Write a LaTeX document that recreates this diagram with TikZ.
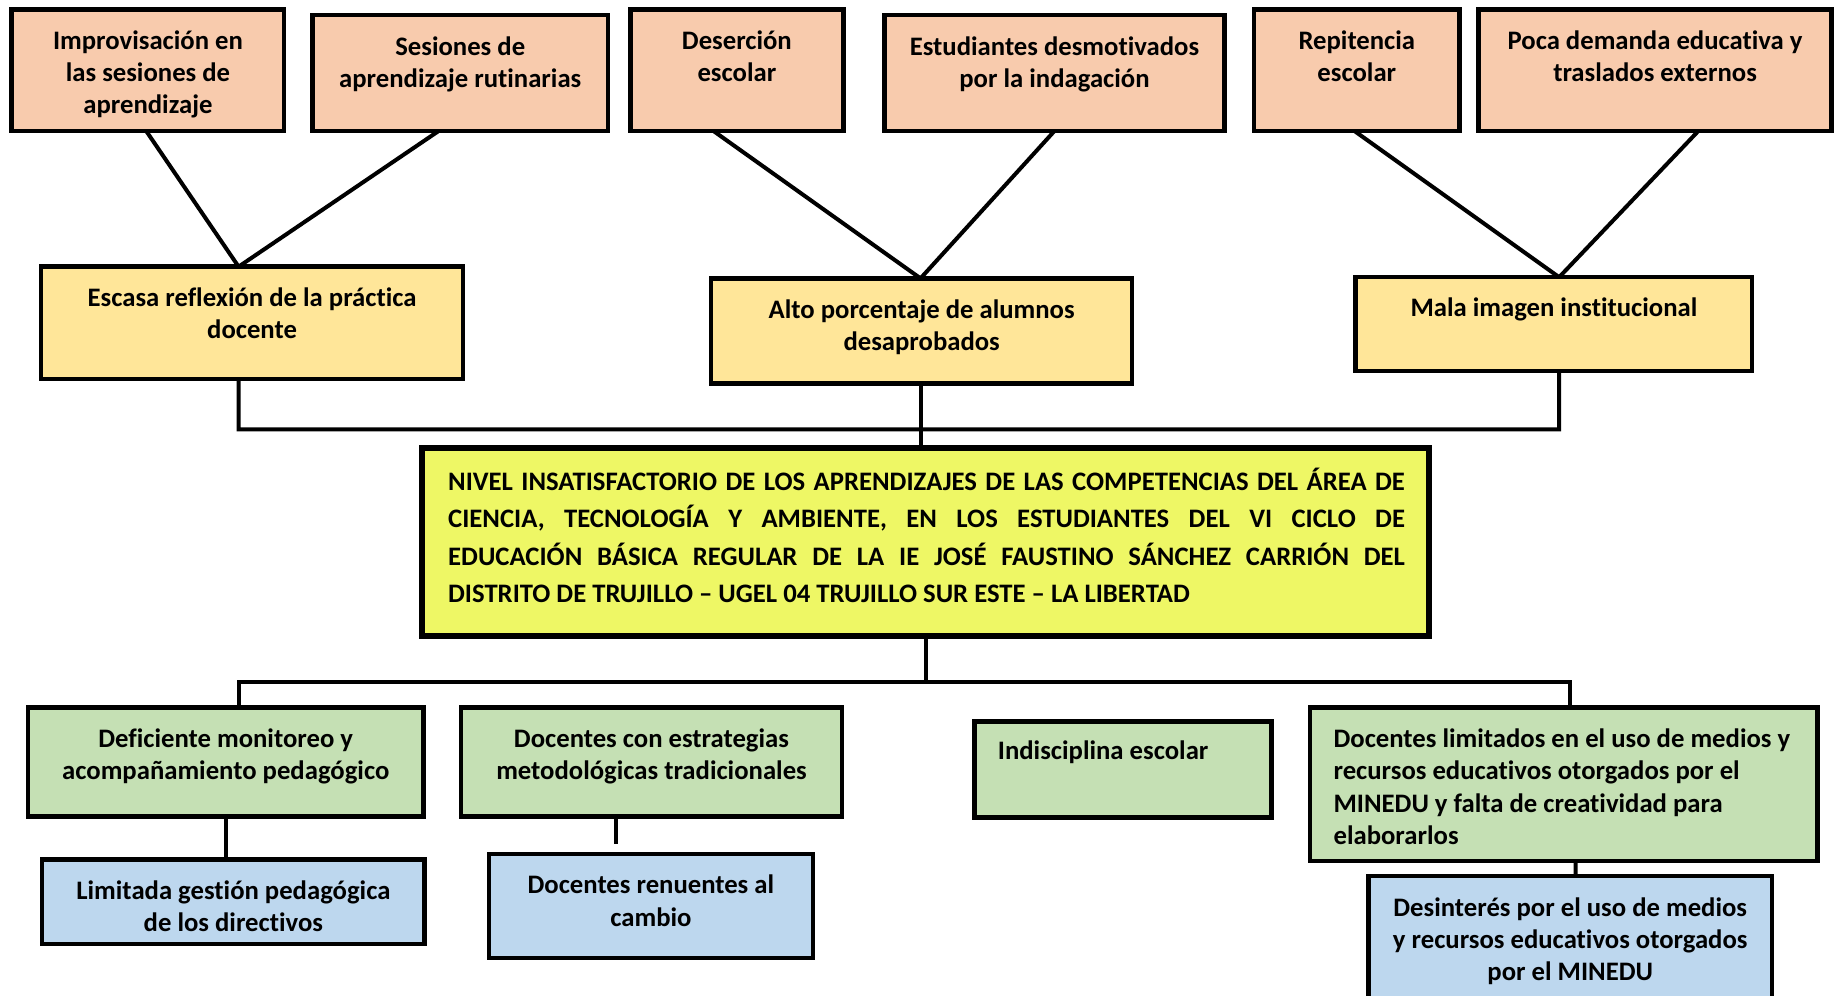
\documentclass[tikz,border=0pt]{standalone}
\usepackage{fontspec}
\setmainfont{Carlito}[Ligatures=NoCommon]
\usetikzlibrary{fit,calc}
\definecolor{peach}{HTML}{F8CBAD}
\definecolor{ylw}{HTML}{FFE699}
\definecolor{core}{HTML}{EEF765}
\definecolor{grn}{HTML}{C5E0B4}
\definecolor{blu}{HTML}{BDD7EE}
\tikzset{
  box/.style={draw=black, line width=4.5pt, inner sep=0pt, outer sep=0pt, rectangle},
  pbox/.style={box, fill=peach},
  ybox/.style={box, fill=ylw},
  gbox/.style={box, fill=grn},
  bbox/.style={box, fill=blu},
  cbox/.style={box, fill=core, line width=6pt},
  txt/.style={anchor=north, align=center, inner sep=0pt, font=\fontsize{26.7pt}{32.3pt}\selectfont\bfseries},
  ltxt/.style={txt, anchor=north west, align=left},
  conn/.style={draw=black, line width=4pt},
}
\begin{document}
\begin{tikzpicture}[x=1.1697pt, y=-1.1697pt]
\useasboundingbox (0,0) rectangle (1568,851);
% top row
\node[pbox, fit={(10,8)(243,112)}] (a1) {};
\node[pbox, fit={(267,13)(520,112)}] (a2) {};
\node[pbox, fit={(539,8)(721,112)}] (a3) {};
\node[pbox, fit={(756,13)(1047,112)}] (a4) {};
\node[pbox, fit={(1072,8)(1248,112)}] (a5) {};
\node[pbox, fit={(1264,8)(1566,112)}] (a6) {};
\node[txt] (a1t) at (126.5,26) {Improvisación en\\las sesiones de\\aprendizaje};
\node[txt] (a2t) at (393.5,31) {Sesiones de\\aprendizaje rutinarias};
\node[txt] (a3t) at (630,26) {Deserción\\escolar};
\node[txt] (a4t) at (901.5,31) {Estudiantes desmotivados\\por la indagación};
\node[txt] (a5t) at (1160,26) {Repitencia\\escolar};
\node[txt] (a6t) at (1415,26) {Poca demanda educativa y\\traslados externos};
% middle row
\node[ybox, fit={(35,228)(396,324)}] (b1) {};
\node[ybox, fit={(608,238)(968,328)}] (b2) {};
\node[ybox, fit={(1159,237)(1498,317)}] (b3) {};
\node[txt] (b1t) at (215.5,246) {Escasa reflexión de la práctica\\docente};
\node[txt] (b2t) at (788,256) {Alto porcentaje de alumnos\\desaprobados};
\node[txt] (b3t) at (1328.5,254) {Mala imagen institucional};
% connectors top
\draw[conn] ($(a1.south)+(-1.5,0)$) -- ($(b1.north)+(-11.5,0)$);
\draw[conn] ($(a2.south)+(-18.5,0)$) -- ($(b1.north)+(-11.5,0)$);
\draw[conn] ($(a3.south)+(-20,0)$) -- ($(b2.north)+(-1,0)$);
\draw[conn] (a4.south) -- ($(b2.north)+(-1,0)$);
\draw[conn] ($(a5.south)+(-2,0)$) -- ($(b3.north)+(4.5,0)$);
\draw[conn] ($(a6.south)+(37,0)$) -- ($(b3.north)+(4.5,0)$);
% core
\node[cbox, fit={(361,383)(1222,544)}] (c) {};
\node[ltxt, font=\fontsize{26.7pt}{37.4pt}\selectfont\bfseries] (ct) at (383,400) {%
\makebox[956.8pt][s]{NIVEL INSATISFACTORIO DE LOS APRENDIZAJES DE LAS COMPETENCIAS DEL ÁREA DE}\\
\makebox[956.8pt][s]{CIENCIA, TECNOLOGÍA Y AMBIENTE, EN LOS ESTUDIANTES DEL VI CICLO DE}\\
\makebox[956.8pt][s]{EDUCACIÓN BÁSICA REGULAR DE LA IE JOSÉ FAUSTINO SÁNCHEZ CARRIÓN DEL}\\
DISTRITO DE TRUJILLO – UGEL 04 TRUJILLO SUR ESTE – LA LIBERTAD};
\coordinate (busL) at (204,367);
\coordinate (busR) at (1333,367);
\draw[conn] ($(b1.south)+(-11.5,0)$) -- (busL) -- (busR) -- ($(b3.south)+(4.5,0)$);
\draw[conn] ($(b2.south)+(-1,0)$) -- ($(c.north)+(-4.5,0)$);
% bottom rows
\node[gbox, fit={(24,605)(362,698)}] (d1) {};
\node[gbox, fit={(394,605)(720,698)}] (d2) {};
\node[gbox, fit={(833,617)(1087,699)}] (d3) {};
\node[gbox, fit={(1120,605)(1554,736)}] (d4) {};
\node[txt] (d1t) at (193,623) {Deficiente monitoreo y\\acompañamiento pedagógico};
\node[txt] (d2t) at (557,623) {Docentes con estrategias\\metodológicas tradicionales};
\node[ltxt] (d3t) at (853,633) {Indisciplina escolar};
\node[ltxt] (d4t) at (1140,623) {Docentes limitados en el uso de medios y\\recursos educativos otorgados por el\\MINEDU y falta de creatividad para\\elaborarlos};
\node[bbox, fit={(36,735)(363,807)}] (e1) {};
\node[bbox, fit={(418,730)(695,819)}] (e2) {};
\node[bbox, fit={(1170,749)(1515,858)}] (e3) {};
\node[txt] (e1t) at (199.5,753) {Limitada gestión pedagógica\\de los directivos};
\node[txt] (e2t) at (556.5,748) {Docentes renuentes al\\cambio};
\node[txt] (e3t) at (1342.5,767) {Desinterés por el uso de medios\\y recursos educativos otorgados\\por el MINEDU};
\coordinate (bus2L) at (204,583);
\coordinate (bus2R) at (1342,583);
\coordinate (e2gap) at (527,722);
\draw[conn] (c.south) -- (c.south |- bus2L);
\draw[conn] ($(d1.north)+(11,0)$) -- (bus2L) -- (bus2R) -- ($(d4.north)+(5,0)$);
\draw[conn] ($(d2.north)+(-30,0)$) -- ($(d2.north)+(-30,0)$ |- bus2L);
\draw[conn] ($(d3.north)+(-11,0)$) -- ($(d3.north)+(-11,0)$ |- bus2L);
\draw[conn] (d1.south) -- (d1.south |- e1.north);
\draw[conn] ($(d2.south)+(-30,0)$) -- (e2gap);
\draw[conn] ($(d4.south)+(10,0)$) -- ($(e3.north)+(4.5,0)$);
\end{tikzpicture}
\end{document}
